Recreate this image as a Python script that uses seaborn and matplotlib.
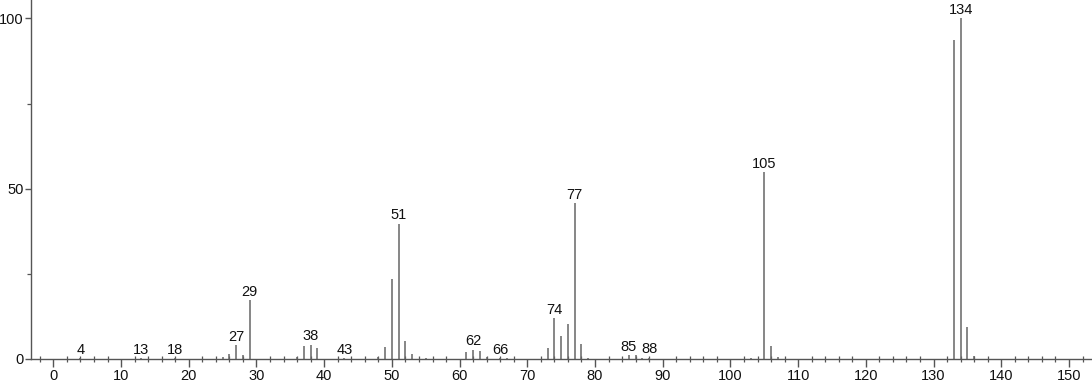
import matplotlib
matplotlib.use("Agg")
import matplotlib.pyplot as plt
from matplotlib.ticker import MultipleLocator
import seaborn as sns
import pandas as pd

mz = [4, 13, 18, 25, 26, 27, 28, 29, 36, 37, 38, 39, 43, 48, 49, 50, 51, 52, 53,
      55, 61, 62, 63, 64, 66, 67, 73, 74, 75, 76, 77, 78, 79, 85, 86, 87, 88,
      103, 105, 106, 107, 133, 134, 135, 136]
intensity = [0.2, 0.3, 0.3, 0.5, 1.6, 4.1, 1.2, 17.2, 0.7, 3.9, 4.2, 3.2, 0.3,
             0.5, 3.4, 23.6, 39.7, 5.3, 1.4, 0.3, 2.1, 2.7, 2.3, 0.6, 0.3, 0.3,
             3.1, 11.9, 6.8, 10.3, 45.8, 4.4, 0.4, 1.2, 1.2, 0.3, 0.4, 0.4,
             54.8, 3.9, 0.5, 93.8, 100.0, 9.5, 0.8]
labelled = [4, 13, 18, 27, 29, 38, 43, 51, 62, 66, 74, 77, 85, 88, 105, 134]
y_ticks = [0, 50, 100]
x_ticks = list(range(0, 151, 10))

df = pd.DataFrame({"mz": mz, "intensity": intensity})

sns.set_style("ticks")
plt.rcParams["font.family"] = ["Liberation Sans", "DejaVu Sans"]

fig = plt.figure(figsize=(10.92, 3.84), dpi=100)
ax = fig.add_axes([31 / 1092, 25 / 384, 1 - 31 / 1092, 359 / 384])

line_col = "#666666"
ax.vlines(df["mz"], 0, df["intensity"], colors=line_col, linewidth=1.1)

for m, v in zip(df["mz"], df["intensity"]):
    if m in labelled:
        ax.annotate(str(m), (m, v), xytext=(0, 1.0), textcoords="offset points",
                    ha="center", va="bottom", fontsize=10.5, color="#111111")

ax.set_xlim(-3.3, 153.4)
ax.set_ylim(0, 105.4)
ax.set_xticks(x_ticks)
ax.set_yticks(y_ticks)
ax.xaxis.set_minor_locator(MultipleLocator(2))
ax.yaxis.set_minor_locator(MultipleLocator(25))

sns.despine(ax=ax, top=True, right=True)
for s in ["left", "bottom"]:
    ax.spines[s].set_color("#555555")
    ax.spines[s].set_linewidth(1.0)

ax.tick_params(axis="x", which="major", direction="out", length=5.5, width=1.0,
               color="#555555", labelsize=10.5, pad=2, labelcolor="#111111")
ax.tick_params(axis="x", which="minor", direction="inout", length=4.5, width=0.9,
               color="#555555")
ax.tick_params(axis="y", which="major", direction="out", length=4.5, width=1.0,
               color="#555555", labelsize=10.5, pad=1.0, labelcolor="#111111")
ax.tick_params(axis="y", which="minor", direction="out", length=3, width=0.9,
               color="#555555")
ax.set_xlabel("")
ax.set_ylabel("")
ax.patch.set_alpha(0)

fig.savefig("out.png", dpi=100)
